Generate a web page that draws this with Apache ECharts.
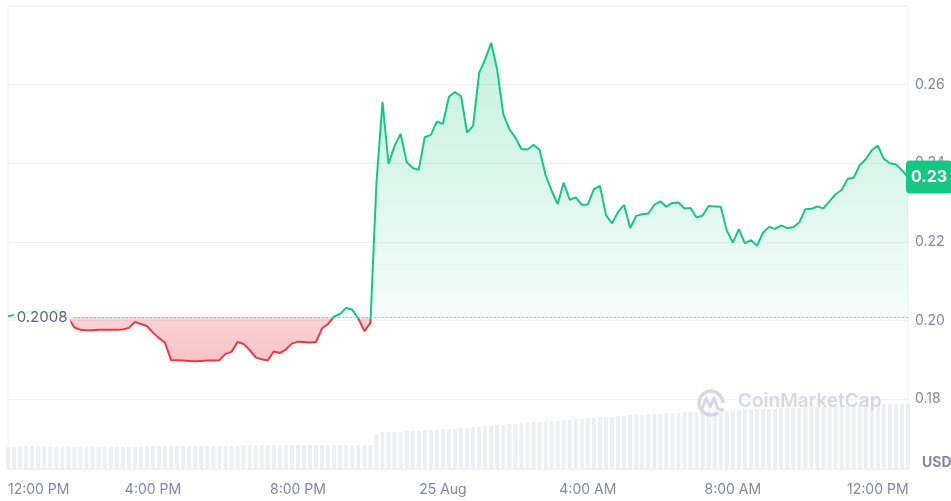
<!DOCTYPE html>
<html lang="en">
  <head>
    <meta charset="UTF-8" />
    <title>Price chart</title>
    <script src="https://cdn.jsdelivr.net/npm/echarts@6/dist/echarts.min.js"></script>
    <style>
      html, body { margin: 0; padding: 0; background: #fff; }
      #chart { width: 951px; height: 501px; }
    </style>
  </head>
  <body>
    <div id="chart"></div>
    <script>
      // opening price (dotted reference line)
      const base = 0.2008;

      // x-axis tick labels, one every 4 hours
      const tickLabels = ['12:00 PM', '4:00 PM', '8:00 PM', '25 Aug', '4:00 AM', '8:00 AM', '12:00 PM'];

      // price, one point every 10 minutes from 12:00 PM
      const prices = [
        0.2011, 0.2014, 0.2017, 0.2020, 0.2024, 0.2023, 0.2022, 0.2019, 0.2027, 0.2019,
        0.2006, 0.1982, 0.1976, 0.1975, 0.1975, 0.1976, 0.1976, 0.1976, 0.1976, 0.1977,
        0.1981, 0.1996, 0.1991, 0.1986, 0.1969, 0.1955, 0.1943, 0.1899, 0.1899, 0.1898,
        0.1897, 0.1896, 0.1897, 0.1898, 0.1898, 0.1899, 0.1915, 0.1920, 0.1945, 0.1940,
        0.1925, 0.1906, 0.1901, 0.1898, 0.1921, 0.1917, 0.1926, 0.1941, 0.1946, 0.1945,
        0.1944, 0.1945, 0.1980, 0.1991, 0.2010, 0.2017, 0.2032, 0.2027, 0.2005, 0.1973,
        0.1994, 0.2350, 0.2556, 0.2398, 0.2444, 0.2475, 0.2403, 0.2388, 0.2383, 0.2466,
        0.2472, 0.2506, 0.2500, 0.2569, 0.2581, 0.2571, 0.2478, 0.2495, 0.2630, 0.2664,
        0.2706, 0.2637, 0.2525, 0.2487, 0.2465, 0.2436, 0.2435, 0.2447, 0.2434, 0.2370,
        0.2330, 0.2296, 0.2350, 0.2307, 0.2313, 0.2294, 0.2295, 0.2334, 0.2342, 0.2268,
        0.2247, 0.2276, 0.2294, 0.2235, 0.2266, 0.2270, 0.2272, 0.2294, 0.2303, 0.2289,
        0.2299, 0.2300, 0.2285, 0.2286, 0.2262, 0.2267, 0.2291, 0.2290, 0.2289, 0.2229,
        0.2198, 0.2232, 0.2196, 0.2204, 0.2190, 0.2223, 0.2238, 0.2233, 0.2242, 0.2235,
        0.2237, 0.2249, 0.2283, 0.2284, 0.2290, 0.2285, 0.2303, 0.2321, 0.2332, 0.2360,
        0.2363, 0.2395, 0.2410, 0.2433, 0.2445, 0.2411, 0.2400, 0.2397, 0.2382, 0.2365
      ];

      // 24h volume (relative units), same timestamps
      const volume = [
        22, 22, 22, 23, 23, 23, 22, 22, 22, 22, 22,
        22, 22, 22, 22, 22, 22, 22, 22, 22, 22, 22, 22,
        23, 23, 23, 23, 23, 23, 23, 23, 23, 23, 23, 23, 23, 23, 23, 23,
        24, 24, 24, 24, 24, 24, 24, 24, 24, 24, 24, 24, 24, 24, 24, 24, 24, 24, 24, 24, 24, 24,
        35, 37, 37, 37, 37, 38,
        38, 38, 39, 39, 39, 40, 40, 40, 41,
        41, 42, 42, 43, 43, 44, 44, 45, 45, 46, 46, 47, 47, 48, 48,
        48, 49, 49, 50, 50, 51, 51, 52, 52, 52, 53, 53, 54, 54, 54, 55, 55,
        55, 56, 56, 56, 57, 57, 57, 57, 58, 58, 58, 58, 59,
        59, 59, 59, 60, 60, 60, 60, 61, 61, 61, 61, 62, 62, 62, 62,
        62, 63, 63, 63, 63, 64, 64, 64, 64, 65, 65, 65, 65, 65
      ];

      const times = [];
      for (let i = 0; i < prices.length; i++) {
        const m = 12 * 60 + i * 10;
        times.push(String(Math.floor(m / 60) % 24).padStart(2, '0') + ':' + String(m % 60).padStart(2, '0'));
      }

      const green = '#16c784';
      const red = '#ea3943';
      const last = prices[prices.length - 1];
      const maxV = Math.max(...prices);
      const minV = Math.min(...prices);
      // where the opening price sits inside the line's vertical extent
      const split = (maxV - base) / (maxV - minV);

      const chart = echarts.init(document.getElementById('chart'));
      chart.setOption({
        animation: false,
        textStyle: { fontFamily: 'Inter' },
        grid: {
          left: 8,
          right: 43,
          top: 6,
          bottom: 32,
          show: true,
          borderColor: '#eff1f4',
          borderWidth: 1
        },
        xAxis: {
          type: 'category',
          data: times,
          boundaryGap: false,
          axisLine: { show: false },
          axisTick: { show: false },
          axisLabel: {
            interval: 23,
            margin: 14,
            color: '#808a9d',
            fontSize: 14,
            alignMinLabel: 'left',
            formatter: function (v, idx) {
              return tickLabels[idx / 24] || '';
            }
          }
        },
        yAxis: [
          {
            type: 'value',
            position: 'right',
            min: 0.1622,
            max: 0.28,
            axisLine: { show: false },
            axisTick: { show: false },
            splitLine: { lineStyle: { color: '#eff1f4' } },
            axisLabel: {
              margin: 7,
              color: '#808a9d',
              fontSize: 14,
              showMinLabel: false,
              showMaxLabel: false,
              formatter: function (v) { return v.toFixed(2); }
            }
          },
          {
            type: 'value',
            min: 0,
            max: 463,
            show: false
          }
        ],
        series: [
          {
            type: 'line',
            data: prices,
            showSymbol: false,
            z: 3,
            lineStyle: {
              width: 2,
              color: new echarts.graphic.LinearGradient(0, 0, 0, 1, [
                { offset: 0, color: green },
                { offset: split, color: green },
                { offset: split, color: red },
                { offset: 1, color: red }
              ])
            },
            areaStyle: {
              origin: base,
              opacity: 1,
              color: new echarts.graphic.LinearGradient(0, 0, 0, 1, [
                { offset: 0, color: 'rgba(22,199,132,0.26)' },
                { offset: split, color: 'rgba(22,199,132,0.04)' },
                { offset: split, color: 'rgba(234,57,67,0.22)' },
                { offset: 1, color: 'rgba(234,57,67,0.30)' }
              ])
            },
            markLine: {
              silent: true,
              precision: 4,
              symbol: ['none', 'none'],
              data: [
                [
                  {
                    coord: [11, base],
                    lineStyle: { color: '#a6b0c3', width: 1.2, type: [1.5, 2.5] },
                    label: {
                      show: true,
                      position: 'start',
                      distance: 4,
                      formatter: String(base),
                      color: '#58667e',
                      fontSize: 15,
                      fontFamily: 'Inter',
                      backgroundColor: 'rgba(255,255,255,0.85)',
                      padding: [3, 3]
                    }
                  },
                  { coord: [prices.length - 1, base] }
                ],
                {
                  yAxis: last,
                  lineStyle: { color: 'rgba(0,0,0,0)', width: 1 },
                  label: {
                    show: true,
                    opacity: 1,
                    position: 'end',
                    distance: -2,
                    formatter: (Math.floor(last * 100) / 100).toFixed(2),
                    color: '#fff',
                    fontSize: 16,
                    fontWeight: 'bold',
                    fontFamily: 'Inter',
                    backgroundColor: green,
                    borderRadius: 4,
                    padding: [9, 5, 8, 5]
                  }
                }
              ]
            }
          },
          {
            type: 'bar',
            yAxisIndex: 1,
            data: volume,
            barWidth: '66%',
            silent: true,
            z: 1,
            itemStyle: { color: '#edeff3' }
          }
        ],
        graphic: [
          {
            type: 'arc',
            silent: true,
            z: 2,
            shape: { cx: 711, cy: 403, r: 12, startAngle: Math.PI * 0.3, endAngle: Math.PI * 2 },
            style: { stroke: '#d3dae5', lineWidth: 3.5, fill: null }
          },
          {
            type: 'polyline',
            silent: true,
            z: 2,
            shape: { points: [[702, 409], [706, 398], [710, 407], [714, 398], [718, 409], [724, 410]] },
            style: { stroke: '#d3dae5', lineWidth: 3, fill: null, lineJoin: 'round' }
          },
          {
            type: 'text',
            silent: true,
            z: 2,
            left: 738,
            top: 392,
            style: { text: 'CoinMarketCap', fill: '#d3dae5', font: '600 19px Inter' }
          },
          {
            type: 'text',
            silent: true,
            left: 922,
            top: 456,
            style: { text: 'USD', fill: '#808a9d', font: 'bold 14px Inter' }
          }
        ]
      });
    </script>
  </body>
</html>
